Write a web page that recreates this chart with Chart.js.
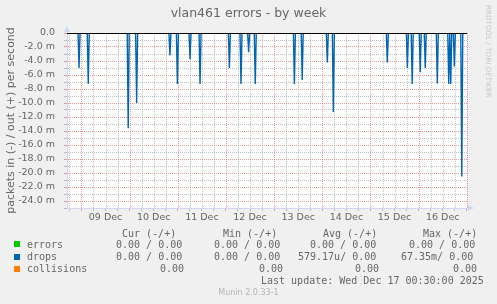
<!DOCTYPE html>
<html lang="en">
<head>
<meta charset="UTF-8">
<script src="https://cdn.jsdelivr.net/npm/chart.js"></script>
<title>vlan461 errors - by week</title>
<style>
  body { margin: 0; background: #f0f0f0; }
  #wrap { position: relative; width: 497px; height: 304px; overflow: hidden; }
  .t { position: absolute; white-space: pre; color: #666; line-height: 12px; }
  .mono { font-family: "DejaVu Sans Mono", monospace; font-size: 10px; }
  .sq { position: absolute; width: 6px; height: 6px; }
</style>
</head>
<body>
<div id="wrap">
  <canvas id="myChart" width="497" height="304"></canvas>
  <div class="t" style="left:0;width:497px;top:7px;text-align:center;font-family:'DejaVu Sans';font-size:12.5px;">vlan461 errors - by week</div>
  <div class="t" style="left:484px;top:5px;writing-mode:vertical-rl;font-family:'DejaVu Sans';font-size:7.2px;color:#c8c8c8;line-height:9px;">RRDTOOL / TOBI OETIKER</div>

  <div class="t mono" style="left:122px;top:228px;">Cur (-/+)</div>
  <div class="t mono" style="left:223px;top:228px;">Min (-/+)</div>
  <div class="t mono" style="left:323px;top:228px;">Avg (-/+)</div>
  <div class="t mono" style="left:423px;top:228px;">Max (-/+)</div>

  <div class="sq" style="left:14px;top:241px;background:#00cc00"></div>
  <div class="t mono" style="left:27px;top:239px;">errors</div>
  <div class="t mono" style="left:116px;top:239px;">0.00 / 0.00</div>
  <div class="t mono" style="left:214px;top:239px;">0.00 / 0.00</div>
  <div class="t mono" style="left:310px;top:239px;">0.00 / 0.00</div>
  <div class="t mono" style="left:409px;top:239px;">0.00 / 0.00</div>

  <div class="sq" style="left:14px;top:254px;background:#0066b3"></div>
  <div class="t mono" style="left:27px;top:251px;">drops</div>
  <div class="t mono" style="left:116px;top:251px;">0.00 / 0.00</div>
  <div class="t mono" style="left:214px;top:251px;">0.00 / 0.00</div>
  <div class="t mono" style="left:298px;top:251px;">579.17u/ 0.00</div>
  <div class="t mono" style="left:401px;top:251px;">67.35m/ 0.00</div>

  <div class="sq" style="left:14px;top:266px;background:#ff8000"></div>
  <div class="t mono" style="left:27px;top:263px;">collisions</div>
  <div class="t mono" style="left:160px;top:263px;">0.00</div>
  <div class="t mono" style="left:259px;top:263px;">0.00</div>
  <div class="t mono" style="left:355px;top:263px;">0.00</div>
  <div class="t mono" style="left:453px;top:263px;">0.00</div>

  <div class="t mono" style="left:261px;top:275px;">Last update: Wed Dec 17 00:30:00 2025</div>
  <div class="t" style="left:0;width:497px;top:287px;text-align:center;font-family:'DejaVu Sans';font-size:8px;color:#b4b4b4;">Munin 2.0.33-1</div>
</div>
<script>
    // x values are hours counted from 08 Dec 00:00, y values in milli packets/s
    const xMin = 16.8;
    const xMax = 216.1;
    const dayLabels = ['09 Dec','10 Dec','11 Dec','12 Dec','13 Dec','14 Dec','15 Dec','16 Dec'];
    const dropTimes = [22.8, 27.4, 47.3, 51.5, 68.1, 71.8, 78.1, 83.1, 97.7, 103.5, 107.3, 110.6,
                       130.1, 134.0, 146.5, 149.5, 176.4, 186.4, 188.8, 192.8, 195.3, 201.3,
                       207.0, 208.0, 209.8, 213.5];
    const dropValues = [-5.0, -7.3, -13.6, -10.0, -3.2, -7.3, -3.75, -7.3, -5.0, -7.3, -2.75, -7.3,
                        -7.3, -6.7, -4.2, -11.3, -4.2, -5.0, -7.3, -5.6, -5.0, -7.2,
                        -7.3, -7.3, -4.8, -20.5];
    const halfStep = 0.5; // one 30 min sample on each side of a spike

    const dropPoints = [{x: xMin, y: 0}];
    dropTimes.forEach((t, i) => {
        dropPoints.push({x: t - halfStep, y: 0});
        dropPoints.push({x: t, y: dropValues[i]});
        dropPoints.push({x: t + halfStep, y: 0});
    });
    dropPoints.push({x: xMax, y: 0});

    const minorGrid = 'rgba(140,140,140,0.55)';
    const majorGrid = 'rgba(225,70,70,0.55)';
    const axisColor = '#cfd6f8';

    const muninPlugin = {
        id: 'munin',
        beforeDraw(chart) {
            const {ctx, chartArea: a} = chart;
            ctx.save();
            ctx.fillStyle = '#ffffff';
            ctx.fillRect(a.left, a.top, a.right - a.left, a.bottom - a.top);
            ctx.restore();
        },
        beforeDatasetsDraw(chart) {
            // dotted vertical grid, one dot every other pixel
            const {ctx, chartArea: a} = chart;
            const xs = chart.scales.x;
            ctx.save();
            xs.ticks.forEach((t) => {
                const px = Math.round(xs.getPixelForValue(t.value));
                if (px <= a.left || px > a.right) return;
                ctx.fillStyle = t.value % 24 === 0 ? majorGrid : minorGrid;
                for (let y = Math.round(a.top); y < a.bottom; y += 2) ctx.fillRect(px, y, 1, 1);
            });
            ctx.restore();
        },
        afterDatasetsDraw(chart) {
            const {ctx, chartArea: a} = chart;
            const y0 = Math.round(chart.scales.y.getPixelForValue(0)) + 0.5;
            ctx.save();
            ctx.strokeStyle = '#000';
            ctx.lineWidth = 1;
            ctx.beginPath();
            ctx.moveTo(a.left, y0);
            ctx.lineTo(a.right, y0);
            ctx.stroke();
            // axis arrows
            ctx.fillStyle = axisColor;
            ctx.beginPath();
            ctx.moveTo(a.left - 3, a.top - 1);
            ctx.lineTo(a.left + 3, a.top - 1);
            ctx.lineTo(a.left, a.top - 7);
            ctx.fill();
            ctx.beginPath();
            ctx.moveTo(a.right + 1, a.bottom - 3);
            ctx.lineTo(a.right + 1, a.bottom + 3);
            ctx.lineTo(a.right + 7, a.bottom);
            ctx.fill();
            ctx.restore();
        }
    };

    const ctx = document.getElementById('myChart');
    new Chart(ctx, {
        type: 'line',
        data: {
            datasets: [{
                label: 'drops',
                data: dropPoints,
                borderColor: '#0066b3',
                borderWidth: 1.4,
                pointRadius: 0,
                tension: 0,
                fill: false
            }]
        },
        options: {
            responsive: false,
            animation: false,
            layout: { padding: { left: 0, top: 33, right: 30, bottom: 74 } },
            plugins: { legend: { display: false }, tooltip: { enabled: false } },
            scales: {
                x: {
                    type: 'linear',
                    min: xMin,
                    max: xMax,
                    afterBuildTicks: (s) => {
                        const ticks = [];
                        for (let v = Math.ceil(xMin / 6) * 6; v <= xMax; v += 6) ticks.push({value: v});
                        s.ticks = ticks;
                    },
                    afterFit: (s) => { s.height = 22; },
                    grid: {
                        drawOnChartArea: false,
                        color: (c) => (c.tick.value % 24 === 0 ? majorGrid : minorGrid),
                        tickLength: 3,
                        lineWidth: 1
                    },
                    border: { color: axisColor },
                    ticks: {
                        autoSkip: false,
                        maxRotation: 0,
                        padding: 1,
                        color: '#666',
                        font: { family: 'DejaVu Sans', size: 9.5 },
                        callback: (v) => (v % 24 === 12 ? dayLabels[(v - 36) / 24] || '' : '')
                    }
                },
                y: {
                    min: -25,
                    max: 0,
                    afterFit: (s) => { s.width = 67; },
                    grid: {
                        color: (c) => (c.tick.value % 2 === 0 ? majorGrid : minorGrid),
                        tickLength: 3,
                        lineWidth: 1
                    },
                    border: { color: axisColor, dash: [1, 1] },
                    ticks: {
                        stepSize: 1,
                        autoSkip: false,
                        padding: 9,
                        color: '#666',
                        font: { family: 'DejaVu Sans', size: 9.5 },
                        callback: (v) => (v === 0 ? '0.0' : (v % 2 === 0 ? v.toFixed(1) + ' m' : ''))
                    },
                    title: {
                        display: true,
                        text: 'packets in (-) / out (+) per second',
                        color: '#666',
                        font: { family: 'DejaVu Sans', size: 11 },
                        padding: { top: 4.5, bottom: 0 }
                    }
                }
            }
        },
        plugins: [muninPlugin]
    });
</script>
</body>
</html>
